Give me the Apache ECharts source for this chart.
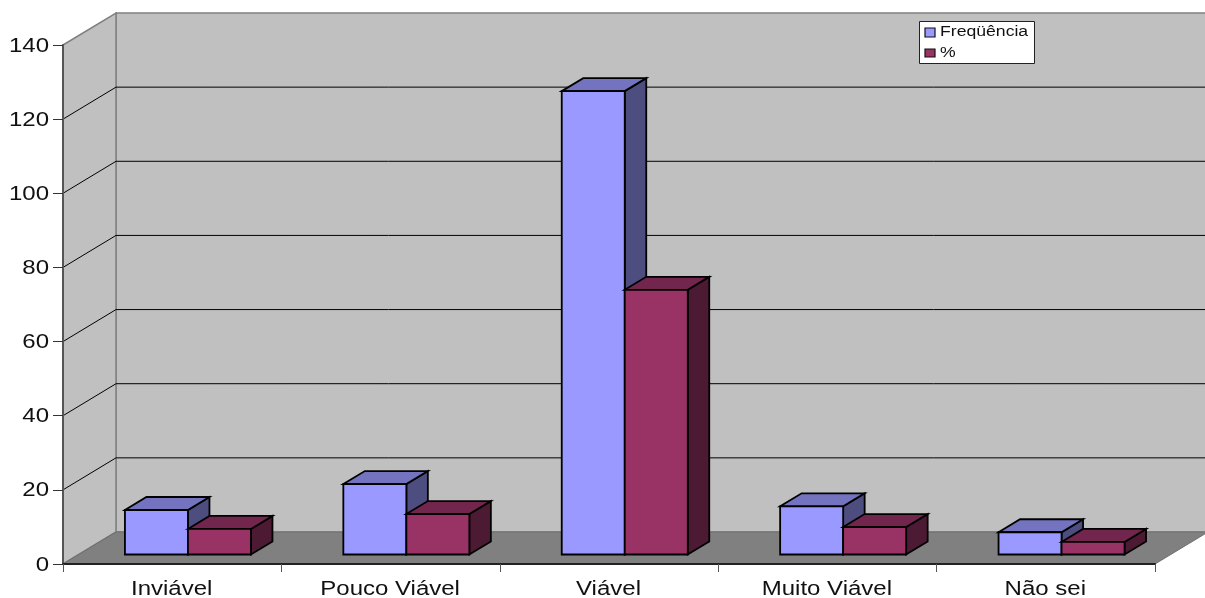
<!DOCTYPE html>
<html>
<head>
<meta charset="utf-8">
<title>Viabilidade</title>
<script src="https://cdn.jsdelivr.net/npm/echarts@6/dist/echarts.min.js"></script>
<style>
html, body { margin: 0; padding: 0; background: #fff; }
#chart { width: 1205px; height: 598px; }
</style>
</head>
<body>
<div id="chart"></div>
<script>
const categories = ['Inviável', 'Pouco Viável', 'Viável', 'Muito Viável', 'Não sei'];
const frequencia = [12, 19, 125, 13, 6];
const percentual = [6.9, 10.9, 71.4, 7.4, 3.4];
const valueTicks = [0, 20, 40, 60, 80, 100, 120, 140];
const seriesNames = ['Freqüência', '%'];

// Oblique projection of the box: full depth of the plot and depth of one bar.
const PLOT_DX = 53, PLOT_DY = -32;
const BAR_DX = 21.5, BAR_DY = -13;
const BAR_SHIFT_X = (PLOT_DX - BAR_DX) / 2, BAR_SHIFT_Y = (PLOT_DY - BAR_DY) / 2;
const BAR_WIDTH_RATIO = 0.2885;
const FONT = '"Liberation Sans", Arial, sans-serif';
const TEXT_STRETCH = 1.2;

const poly = (points, fill, stroke, lineWidth) => ({
  type: 'polygon',
  shape: { points },
  style: { fill, stroke, lineWidth }
});

function renderWalls(params) {
  const g = params.coordSys;
  const l = g.x, r = g.x + g.width, t = g.y, b = g.y + g.height;
  const wall = '#c0c0c0', edge = '#808080';
  return {
    type: 'group',
    children: [
      poly([[l + PLOT_DX, t + PLOT_DY], [r + PLOT_DX, t + PLOT_DY], [r + PLOT_DX, b + PLOT_DY], [l + PLOT_DX, b + PLOT_DY]], wall, edge, 1.5),
      poly([[l, t], [l + PLOT_DX, t + PLOT_DY], [l + PLOT_DX, b + PLOT_DY], [l, b]], wall, edge, 1.5),
      poly([[l, b], [l + PLOT_DX, b + PLOT_DY], [r + PLOT_DX, b + PLOT_DY], [r, b]], '#808080', '#6e6e6e', 1)
    ]
  };
}

function renderGridLine(params, api) {
  const g = params.coordSys;
  const y = api.coord([0, api.value(1)])[1];
  return {
    type: 'polyline',
    shape: { points: [[g.x, y], [g.x + PLOT_DX, y + PLOT_DY], [g.x + g.width + PLOT_DX, y + PLOT_DY]] },
    style: { fill: null, stroke: '#000', lineWidth: 1 }
  };
}

function barRenderer(side, front, top, flank) {
  return function (params, api) {
    const p = api.coord([api.value(0), api.value(1)]);
    const zero = api.coord([api.value(0), 0]);
    const w = api.size([1, 0])[0] * BAR_WIDTH_RATIO;
    const x0 = p[0] + BAR_SHIFT_X + (side === 0 ? -w : 0);
    const x1 = x0 + w;
    const yT = p[1] + BAR_SHIFT_Y;
    const yB = zero[1] + BAR_SHIFT_Y;
    const ink = '#000';
    return {
      type: 'group',
      children: [
        poly([[x1, yT], [x1 + BAR_DX, yT + BAR_DY], [x1 + BAR_DX, yB + BAR_DY], [x1, yB]], flank, ink, 1.8),
        poly([[x0, yT], [x0 + BAR_DX, yT + BAR_DY], [x1 + BAR_DX, yT + BAR_DY], [x1, yT]], top, ink, 1.8),
        poly([[x0, yT], [x1, yT], [x1, yB], [x0, yB]], front, ink, 1.8)
      ]
    };
  };
}

const stretchedText = (text, x, y, size, align) => ({
  type: 'text',
  x, y,
  scaleX: TEXT_STRETCH,
  style: { text, fontFamily: FONT, fontSize: size, fill: '#111', align, verticalAlign: 'middle' }
});

function renderCategoryLabel(params, api) {
  const i = api.value(0);
  const p = api.coord([i, 0]);
  return stretchedText(categories[i], p[0] - 0.5, p[1] + 25, 20, 'center');
}

function renderValueLabel(params, api) {
  const v = api.value(1);
  const p = api.coord([0, v]);
  return stretchedText(String(v), params.coordSys.x - 14, p[1] + 1, 20, 'right');
}

const chart = echarts.init(document.getElementById('chart'), null, { width: 1205, height: 598 });

chart.setOption({
  animation: false,
  backgroundColor: '#ffffff',
  grid: { left: 63, top: 45, width: 1092, height: 519, containLabel: false },
  xAxis: {
    type: 'category',
    data: categories,
    z: 6,
    axisLine: { lineStyle: { color: '#222', width: 2 } },
    axisTick: { show: true, alignWithLabel: false, length: 8, lineStyle: { color: '#555', width: 1 } },
    axisLabel: { show: false },
    splitLine: { show: false }
  },
  yAxis: {
    type: 'value',
    min: 0,
    max: 140,
    interval: 20,
    z: 6,
    axisLine: { show: true, lineStyle: { color: '#555', width: 2 } },
    axisTick: { show: true, length: 10, lineStyle: { color: '#333', width: 1 } },
    axisLabel: { show: false },
    splitLine: { show: false }
  },
  graphic: [
    { type: 'rect', z: 20, shape: { x: 919.5, y: 21.5, width: 115, height: 42 }, style: { fill: '#fff', stroke: '#222', lineWidth: 1 } },
    { type: 'rect', z: 21, shape: { x: 925, y: 28, width: 10, height: 9 }, style: { fill: '#9999ff', stroke: '#111', lineWidth: 1.2 } },
    { type: 'rect', z: 21, shape: { x: 925, y: 49, width: 10, height: 8 }, style: { fill: '#993366', stroke: '#111', lineWidth: 1.2 } },
    { type: 'text', z: 21, x: 940, y: 32, scaleX: TEXT_STRETCH, style: { text: seriesNames[0], fontFamily: FONT, fontSize: 14.7, fill: '#111', verticalAlign: 'middle' } },
    { type: 'text', z: 21, x: 940, y: 53, scaleX: TEXT_STRETCH, style: { text: seriesNames[1], fontFamily: FONT, fontSize: 14.7, fill: '#111', verticalAlign: 'middle' } }
  ],
  series: [
    { type: 'custom', name: 'paredes', z: 1, silent: true, data: [[0, 0]], renderItem: renderWalls },
    { type: 'custom', name: 'grade', z: 2, silent: true, data: valueTicks.slice(1, -1).map(v => [0, v]), renderItem: renderGridLine },
    { type: 'custom', name: seriesNames[0], z: 3, data: frequencia.map((v, i) => [i, v]), renderItem: barRenderer(0, '#9999ff', '#7373bf', '#4d4d80') },
    { type: 'custom', name: seriesNames[1], z: 4, data: percentual.map((v, i) => [i, v]), renderItem: barRenderer(1, '#993366', '#73264d', '#4d1a33') },
    { type: 'custom', name: 'categorias', z: 7, silent: true, data: categories.map((c, i) => [i, 0]), renderItem: renderCategoryLabel },
    { type: 'custom', name: 'valores', z: 7, silent: true, data: valueTicks.map(v => [0, v]), renderItem: renderValueLabel }
  ]
});
</script>
</body>
</html>
